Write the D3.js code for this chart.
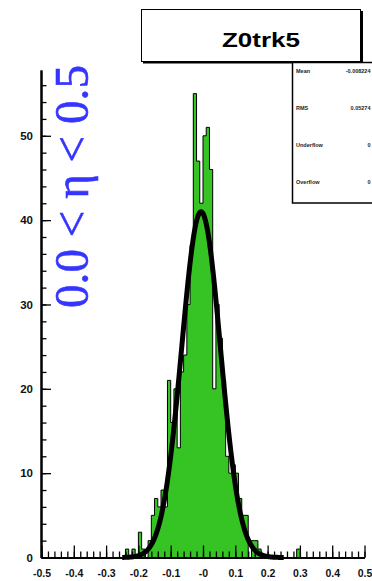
<!DOCTYPE html>
<html>
<head>
<meta charset="utf-8">
<script src="https://cdn.jsdelivr.net/npm/d3@7/dist/d3.min.js"></script>
<style>
  html, body { margin: 0; padding: 0; background: #fff; }
  svg { display: block; }
  .eta { font-family: "Liberation Serif", "Times New Roman", Times, serif; }
</style>
</head>
<body>
<svg id="chart" width="372" height="581"></svg>
<script>
// ---------------- data ----------------
const title = "Z0trk5";
const etaLabel = "0.0 < \u03b7 < 0.5";
const xTickValues = [-0.5, -0.4, -0.3, -0.2, -0.1, 0, 0.1, 0.2, 0.3, 0.4, 0.5];
const xTickLabels = ["-0.5", "-0.4", "-0.3", "-0.2", "-0.1", "-0", "0.1", "0.2", "0.3", "0.4", "0.5"];
const xMinorStep = 0.02;
const yTickValues = [0, 10, 20, 30, 40, 50];
const yMinorStep = 2;
const xDomain = [-0.5, 0.5];
const yDomain = [0, 57.8];
// histogram: bins of width 0.01 starting at -0.25
const binStart = -0.25;
const binWidth = 0.01;
const counts = [
  0, 1, 0, 1, 0, 3, 1, 0, 2, 5,
  7, 6, 8, 6, 21, 16, 20, 13, 22, 24,
  30, 37, 55, 47, 42, 50, 51, 46, 20, 30,
  26, 21, 12, 10, 11, 10, 7, 5, 5, 0,
  2, 2, 1, 0, 0, 0, 0, 0, 0, 0,
  0, 0, 0, 0, 1
];
// gaussian fit parameters
const fitAmp = 41;
const fitMean = -0.006;
const fitSigma = 0.06;
const fitRange = [-0.25, 0.25];
// stats box
const statsLabels = ["Mean", "RMS", "Underflow", "Overflow"];
const statsValues = ["-0.008224", "0.05274", "0", "0"];

// ---------------- drawing ----------------
const svg = d3.select("#chart");
const x = d3.scaleLinear().domain(xDomain).range([41.5, 364.5]);
const y = d3.scaleLinear().domain(yDomain).range([557.5, 70]);
const green = "#35c424";

// histogram
const pts = counts.map((c, i) => [binStart + i * binWidth, c]);
pts.push([binStart + counts.length * binWidth, counts[counts.length - 1]]);
const area = d3.area().curve(d3.curveStepAfter)
  .x(d => x(d[0])).y0(y(0)).y1(d => y(d[1]));
const line = d3.line().curve(d3.curveStepAfter)
  .x(d => x(d[0])).y(d => y(d[1]));
svg.append("path").attr("d", area(pts)).attr("fill", green);
svg.append("path").attr("d", line(pts)).attr("fill", "none")
  .attr("stroke", "#000").attr("stroke-width", 1);

// fit curve
const nFit = 400;
const fitPts = d3.range(nFit + 1).map(i => {
  const xv = fitRange[0] + (fitRange[1] - fitRange[0]) * i / nFit;
  const z = (xv - fitMean) / fitSigma;
  return [xv, fitAmp * Math.exp(-0.5 * z * z)];
});
svg.append("path")
  .attr("d", d3.line().x(d => x(d[0])).y(d => y(d[1]))(fitPts))
  .attr("fill", "none").attr("stroke", "#000").attr("stroke-width", 5)
  .attr("stroke-linejoin", "round");

// axes
const fontFam = "'Liberation Sans', Arial, Helvetica, sans-serif";
const xMinor = d3.range(Math.round((xDomain[1] - xDomain[0]) / xMinorStep) + 1)
  .map(i => xDomain[0] + i * xMinorStep);
const gxMinor = svg.append("g").attr("transform", `translate(0,${y(0)})`)
  .call(d3.axisBottom(x).tickValues(xMinor).tickSizeInner(-6).tickSizeOuter(0).tickFormat(""));
const gx = svg.append("g").attr("transform", `translate(0,${y(0)})`)
  .call(d3.axisBottom(x).tickValues(xTickValues).tickSizeInner(-12).tickSizeOuter(0)
    .tickPadding(12).tickFormat((d, i) => xTickLabels[i]));
const yMinor = d3.range(0, yDomain[1], yMinorStep);
const gyMinor = svg.append("g").attr("transform", `translate(${x(-0.5) - 0.5},0)`)
  .call(d3.axisLeft(y).tickValues(yMinor).tickSizeInner(-5.5).tickSizeOuter(0).tickFormat(""));
const gy = svg.append("g").attr("transform", `translate(${x(-0.5) - 0.5},0)`)
  .call(d3.axisLeft(y).tickValues(yTickValues).tickSizeInner(-10).tickSizeOuter(0)
    .tickPadding(8).tickFormat(d3.format("d")));

[gxMinor, gx, gyMinor, gy].forEach(g => {
  g.selectAll(".domain").attr("stroke", "#000").attr("stroke-width", 2);
  g.selectAll(".tick line").attr("stroke", "#000").attr("stroke-width", 1.3);
});
gx.selectAll(".tick text").attr("font-family", fontFam).attr("font-weight", "bold")
  .attr("font-size", 10.5).attr("fill", "#111");
gy.selectAll(".tick text").attr("font-family", fontFam).attr("font-weight", "bold")
  .attr("font-size", 11.5).attr("fill", "#111");

// title box
svg.append("rect").attr("x", 141.5).attr("y", 9.5).attr("width", 219).attr("height", 52)
  .attr("fill", "#fff").attr("stroke", "#000").attr("stroke-width", 1);
svg.append("path").attr("d", "M143,62.5 H362 V11")
  .attr("fill", "none").attr("stroke", "#000").attr("stroke-width", 2);
svg.append("text").attr("x", 261).attr("y", 47)
  .attr("text-anchor", "middle").attr("font-family", fontFam).attr("font-weight", "bold")
  .attr("font-size", 21).attr("textLength", 78).attr("lengthAdjust", "spacingAndGlyphs")
  .text(title);

// stats box
svg.append("rect").attr("x", 292.5).attr("y", 62.5).attr("width", 90).attr("height", 140.5)
  .attr("fill", "#fff").attr("stroke", "#000").attr("stroke-width", 1.5);
const rowY = [72.5, 109.5, 147, 184];
statsLabels.forEach((lab, i) => {
  svg.append("text").attr("x", 296).attr("y", rowY[i])
    .attr("font-family", fontFam).attr("font-weight", "bold").attr("font-size", 5.5)
    .attr("fill", "#222").text(lab);
  svg.append("text").attr("x", 370.5).attr("y", rowY[i]).attr("text-anchor", "end")
    .attr("font-family", fontFam).attr("font-weight", "bold").attr("font-size", 5.5)
    .attr("fill", "#222").text(statsValues[i]);
});

// eta label (rotated)
svg.append("text").attr("class", "eta")
  .attr("transform", "translate(88,308) rotate(-90) scale(1,1.2)")
  .attr("font-size", 41).attr("fill", "#3535ff")
  .attr("stroke", "#3535ff").attr("stroke-width", 0.5)
  .attr("textLength", 243).attr("lengthAdjust", "spacingAndGlyphs")
  .text(etaLabel);
</script>
</body>
</html>
